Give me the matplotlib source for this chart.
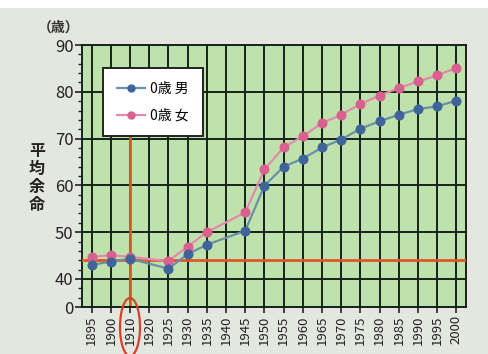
import matplotlib
matplotlib.use("Agg")
import matplotlib.pyplot as plt
from matplotlib.patches import Ellipse, Rectangle
from matplotlib.lines import Line2D
import numpy as np

plt.rcParams['font.family'] = ['Noto Sans CJK JP', 'DejaVu Sans']

years = ["1895", "1900", "1910", "1920", "1925", "1930", "1935", "1940", "1945",
         "1950", "1955", "1960", "1965", "1970", "1975", "1980", "1985", "1990",
         "1995", "2000"]
# None = no survey for that year
male = [43.0, 43.7, 44.3, None, 42.2, 45.3, 47.3, None, 50.3,
        59.9, 64.0, 65.7, 68.1, 69.8, 72.1, 73.7, 75.1, 76.3, 76.9, 78.1]
female = [44.7, 45.1, 44.7, None, 43.8, 46.9, 50.0, None, 54.2,
          63.4, 68.1, 70.5, 73.3, 75.1, 77.4, 79.2, 80.8, 82.2, 83.5, 85.1]
ytick_labels = ["0", "40", "50", "60", "70", "80", "90"]
ref_value = 44.1
ref_year = "1910"

# broken axis: the "0" tick sits a short gap below 40
zero_pos = 34.0
ytick_pos = [zero_pos, 40, 50, 60, 70, 80, 90]

W, H = 488, 354
fig = plt.figure(figsize=(W / 100, H / 100), dpi=100)
fig.patch.set_facecolor('#e3e7df')
fig.patches.append(Rectangle((0, 1 - 8 / H), 1, 8 / H, transform=fig.transFigure,
                             facecolor='white', edgecolor='none', zorder=0))

ax = fig.add_axes([82 / W, 1 - 307 / H, (466 - 82) / W, (307 - 45) / H])
ax.set_facecolor('#bfe2ad')

x = np.arange(len(years))

def pts(vals):
    xs = [i for i, v in enumerate(vals) if v is not None]
    ys = [v for v in vals if v is not None]
    return xs, ys

male_line = '#6b8fa6'
male_mark = '#3f6499'
female_line = '#e28aac'
female_mark = '#d9608f'

mx, my = pts(male)
fx, fy = pts(female)
ax.plot(fx, fy, color=female_line, lw=1.6, zorder=4)
ax.plot(fx, fy, ls='none', marker='o', ms=6.2, color=female_mark, zorder=5)
ax.plot(mx, my, color=male_line, lw=1.6, zorder=4)
ax.plot(mx, my, ls='none', marker='o', ms=6.2, color=male_mark, zorder=5)

ax.set_xlim(-0.5, len(years) - 0.5)
ax.set_ylim(zero_pos, 90)
ax.set_xticks(x)
ax.set_xticklabels(years, rotation=90, fontsize=9.5)
ax.set_yticks(ytick_pos)
ax.set_yticklabels(ytick_labels, fontsize=12)
ax.set_yticks([v for v in np.arange(36, 90, 2) if v not in ytick_pos], minor=True)
ax.tick_params(axis='y', which='major', length=5, width=1.2, pad=1, colors='#222222')
ax.tick_params(axis='y', which='minor', length=3, width=1.0, colors='#222222')
ax.tick_params(axis='x', length=4, width=1.2, pad=2, colors='#222222')

ax.grid(True, which='major', color='#14231c', lw=1.4, zorder=1)
ax.set_axisbelow(True)
for s in ax.spines.values():
    s.set_color('#14231c')
    s.set_linewidth(1.4)

# reference lines
ax.axhline(ref_value, color='#e0562a', lw=2, zorder=3)
ri = years.index(ref_year)

leg = ax.legend(handles=[
    Line2D([], [], color=male_line, marker='o', ms=5, mfc=male_mark, mec=male_mark, lw=1.6),
    Line2D([], [], color=female_line, marker='o', ms=5, mfc=female_mark, mec=female_mark, lw=1.6)],
    labels=['0歳 男', '0歳 女'], loc='upper left', bbox_to_anchor=(0.037, 0.938),
    fontsize=10, frameon=True, fancybox=False, framealpha=1, edgecolor='#222222',
    borderpad=1.0, handlelength=2.0, labelspacing=0.9, handletextpad=0.4)
leg.get_frame().set_linewidth(1.4)
leg.set_zorder(6)

# vertical marker from legend bottom down to the axis, then an ellipse round the label
legend_bottom = ax.transData.inverted().transform((0, H - 135))[1]
ax.plot([ri, ri], [zero_pos + 0.6, legend_bottom], color='#e0562a', lw=2, zorder=3,
        clip_on=False)
cx = ax.transData.transform((ri, 0))[0]
fig.patches.append(Ellipse((cx / W, 1 - 327 / H), 20 / W, 58 / H,
                           transform=fig.transFigure, fill=False,
                           edgecolor='#d8402a', lw=1.6, zorder=10))

fig.text(37 / W, 1 - 178 / H, "平\n均\n余\n命", ha='center', va='center',
         fontsize=11.5, linespacing=1.15, color='#222222', fontweight='bold')
fig.text(59 / W, 1 - 28 / H, "（歳）", ha='center', va='center', fontsize=10,
         color='#333333', fontweight='bold')

fig.savefig("out.png", dpi=100, facecolor=fig.get_facecolor())
